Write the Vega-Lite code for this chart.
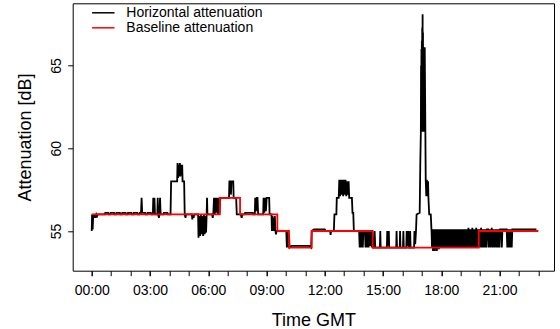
{
  "$schema": "https://vega.github.io/schema/vega-lite/v6.json",
  "autosize": {"type": "none"},
  "padding": {"left": 72.7, "top": 3.3, "right": 6, "bottom": 58.3},
  "width": 481.3,
  "height": 267.4,
  "background": "white",
  "config": {
    "font": "Liberation Sans",
    "view": {"stroke": "black", "strokeWidth": 1},
    "axis": {"grid": false, "domain": false, "tickColor": "black", "tickWidth": 1, "tickSize": 5, "labelColor": "black", "labelFontSize": 14, "labelFont": "Liberation Sans", "titleColor": "black", "titleFont": "Liberation Sans", "titleFontSize": 18, "titleFontWeight": "normal"},
    "legend": {"orient": "none", "legendX": 23.6, "legendY": 2.5, "padding": 0, "title": null, "symbolType": "M-2.8,0H2.8", "symbolSize": 64, "symbolStrokeWidth": 1.5, "labelFontSize": 14, "labelFont": "Liberation Sans", "labelColor": "black", "labelOffset": 16, "rowPadding": 1}
  },
  "datasets": {
    "h": [
      {"t":0.00,"v":55.0},{"t":0.02,"v":56.0},{"t":0.05,"v":55.1},{"t":0.08,"v":56.0},{"t":0.12,"v":55.8},{"t":0.16,"v":56.0},{"t":0.20,"v":55.8},{"t":0.24,"v":56.0},{"t":0.28,"v":55.9},{"t":0.32,"v":56.0},
      {"t":0.50,"v":56.0},{"t":0.68,"v":56.0},{"t":0.70,"v":56.1},{"t":0.85,"v":56.1},{"t":0.87,"v":56.0},{"t":0.95,"v":56.0},{"t":0.97,"v":56.1},{"t":1.15,"v":56.1},{"t":1.17,"v":56.0},{"t":1.25,"v":56.0},{"t":1.27,"v":56.1},{"t":1.45,"v":56.1},{"t":1.47,"v":56.0},{"t":1.55,"v":56.0},{"t":1.57,"v":56.1},{"t":1.75,"v":56.1},{"t":1.77,"v":56.0},{"t":1.85,"v":56.0},{"t":1.87,"v":56.1},{"t":2.05,"v":56.1},{"t":2.07,"v":56.0},{"t":2.15,"v":56.0},{"t":2.17,"v":56.1},{"t":2.35,"v":56.1},{"t":2.37,"v":56.0},{"t":2.45,"v":56.0},{"t":2.47,"v":56.1},{"t":2.54,"v":56.1},{"t":2.57,"v":57.0},{"t":2.60,"v":56.1},{"t":2.75,"v":56.1},{"t":2.77,"v":56.0},{"t":2.85,"v":56.0},{"t":2.87,"v":56.1},{"t":3.05,"v":56.1},{"t":3.08,"v":56.0},
      {"t":3.15,"v":56.0},{"t":3.17,"v":57.0},{"t":3.20,"v":56.0},{"t":3.23,"v":57.0},{"t":3.26,"v":56.0},{"t":3.38,"v":56.0},{"t":3.40,"v":57.0},{"t":3.42,"v":56.0},{"t":3.46,"v":55.8},{"t":3.49,"v":56.0},{"t":3.52,"v":57.0},{"t":3.55,"v":56.0},{"t":3.70,"v":56.0},{"t":3.72,"v":56.1},{"t":3.90,"v":56.1},{"t":3.92,"v":56.0},
      {"t":4.06,"v":56.0},{"t":4.09,"v":58.0},{"t":4.40,"v":58.0},{"t":4.42,"v":59.1},{"t":4.45,"v":58.2},{"t":4.48,"v":59.0},{"t":4.51,"v":58.3},{"t":4.54,"v":59.1},{"t":4.57,"v":58.3},{"t":4.60,"v":59.0},{"t":4.63,"v":58.4},{"t":4.66,"v":59.0},{"t":4.68,"v":58.0},{"t":4.76,"v":58.0},{"t":4.79,"v":56.0},{"t":4.83,"v":55.8},{"t":4.86,"v":56.0},
      {"t":5.16,"v":56.0},{"t":5.18,"v":55.7},{"t":5.21,"v":56.0},{"t":5.25,"v":55.8},{"t":5.28,"v":56.0},{"t":5.48,"v":56.0},{"t":5.50,"v":54.6},{"t":5.54,"v":55.9},{"t":5.58,"v":54.7},{"t":5.62,"v":56.0},{"t":5.66,"v":54.8},{"t":5.70,"v":55.9},{"t":5.74,"v":54.7},{"t":5.78,"v":56.0},{"t":5.82,"v":54.8},{"t":5.86,"v":55.9},{"t":5.89,"v":54.9},{"t":5.92,"v":56.0},{"t":5.94,"v":57.0},{"t":5.96,"v":56.0},
      {"t":6.20,"v":56.0},{"t":6.23,"v":55.8},{"t":6.26,"v":56.0},{"t":6.30,"v":57.0},{"t":6.34,"v":56.0},{"t":6.38,"v":57.0},{"t":6.42,"v":56.1},{"t":6.46,"v":57.0},{"t":6.50,"v":56.0},{"t":6.54,"v":57.0},{"t":6.58,"v":56.1},{"t":6.62,"v":57.0},{"t":7.07,"v":57.0},{"t":7.09,"v":58.0},{"t":7.15,"v":58.0},{"t":7.17,"v":57.2},{"t":7.20,"v":58.0},{"t":7.29,"v":58.0},{"t":7.31,"v":57.0},{"t":7.44,"v":57.0},{"t":7.47,"v":56.0},{"t":7.68,"v":56.0},{"t":7.72,"v":55.8},{"t":7.76,"v":56.0},{"t":7.88,"v":56.0},{"t":7.90,"v":56.1},{"t":8.30,"v":56.1},{"t":8.32,"v":56.0},
      {"t":8.40,"v":56.0},{"t":8.42,"v":57.0},{"t":8.46,"v":56.2},{"t":8.50,"v":57.0},{"t":8.54,"v":57.0},{"t":8.57,"v":56.0},{"t":8.83,"v":56.0},{"t":8.85,"v":57.0},{"t":8.89,"v":56.1},{"t":8.93,"v":57.0},{"t":8.97,"v":56.2},{"t":9.01,"v":57.0},{"t":9.14,"v":57.0},{"t":9.16,"v":56.0},{"t":9.26,"v":56.0},{"t":9.28,"v":55.0},{"t":9.31,"v":55.9},{"t":9.34,"v":55.0},{"t":9.37,"v":55.8},{"t":9.40,"v":55.0},{"t":9.43,"v":55.9},{"t":9.46,"v":55.0},{"t":9.49,"v":54.8},{"t":9.52,"v":55.0},
      {"t":10.02,"v":55.0},{"t":10.05,"v":54.0},{"t":10.09,"v":55.0},{"t":10.13,"v":54.0},{"t":10.16,"v":54.8},{"t":10.19,"v":54.0},{"t":10.30,"v":54.1},{"t":11.20,"v":54.1},{"t":11.30,"v":54.0},{"t":11.33,"v":55.0},{"t":11.45,"v":55.1},{"t":12.00,"v":55.1},{"t":12.05,"v":55.0},{"t":12.28,"v":55.0},{"t":12.30,"v":54.76},{"t":12.33,"v":55.0},{"t":12.47,"v":55.0},{"t":12.50,"v":56.0},{"t":12.60,"v":56.0},{"t":12.62,"v":57.0},{"t":12.72,"v":57.0},
      {"t":12.75,"v":58.1},{"t":12.79,"v":57.1},{"t":12.83,"v":58.1},{"t":12.87,"v":57.2},{"t":12.91,"v":58.1},{"t":12.95,"v":57.1},{"t":12.99,"v":58.1},{"t":13.03,"v":57.2},{"t":13.07,"v":58.1},{"t":13.11,"v":57.1},{"t":13.15,"v":58.0},{"t":13.19,"v":57.2},{"t":13.23,"v":58.0},{"t":13.26,"v":57.0},{"t":13.40,"v":57.0},{"t":13.43,"v":56.1},{"t":13.47,"v":56.1},{"t":13.50,"v":55.0},
      {"t":13.77,"v":55.0},{"t":13.80,"v":54.0},{"t":13.84,"v":55.0},{"t":13.88,"v":54.0},{"t":13.92,"v":55.0},{"t":13.96,"v":54.0},{"t":13.99,"v":55.0},{"t":14.07,"v":55.0},{"t":14.10,"v":54.0},{"t":14.14,"v":55.0},{"t":14.18,"v":54.0},{"t":14.22,"v":55.0},{"t":14.26,"v":54.0},{"t":14.30,"v":55.0},{"t":14.34,"v":54.1},{"t":14.38,"v":55.0},{"t":14.42,"v":54.0},{"t":14.45,"v":55.0},{"t":14.50,"v":54.0},
      {"t":14.55,"v":54.0},{"t":14.57,"v":55.0},{"t":14.60,"v":54.0},{"t":14.84,"v":54.0},{"t":14.86,"v":55.0},{"t":14.88,"v":54.0},{"t":15.20,"v":54.0},{"t":15.22,"v":55.0},{"t":15.26,"v":54.1},{"t":15.30,"v":55.0},{"t":15.32,"v":54.0},{"t":15.68,"v":54.0},{"t":15.70,"v":55.0},{"t":15.72,"v":54.0},{"t":15.86,"v":54.0},{"t":15.88,"v":55.0},{"t":15.90,"v":54.0},{"t":16.03,"v":54.0},{"t":16.05,"v":55.0},{"t":16.07,"v":54.0},{"t":16.20,"v":54.0},{"t":16.22,"v":55.0},{"t":16.26,"v":54.1},{"t":16.30,"v":55.0},{"t":16.32,"v":54.0},{"t":16.38,"v":54.0},{"t":16.40,"v":55.0},{"t":16.42,"v":54.0},{"t":16.60,"v":54.0},{"t":16.62,"v":55.0},{"t":16.66,"v":54.2},{"t":16.70,"v":55.0},
      {"t":16.73,"v":56.0},{"t":16.89,"v":56.1},{"t":16.92,"v":59.0},{"t":16.95,"v":61.0},{"t":16.96,"v":65.0},{"t":16.97,"v":61.5},{"t":16.98,"v":66.0},{"t":16.99,"v":61.0},{"t":17.00,"v":66.5},{"t":17.01,"v":61.2},{"t":17.02,"v":67.3},{"t":17.03,"v":61.5},{"t":17.04,"v":68.1},{"t":17.05,"v":61.0},{"t":17.06,"v":67.0},{"t":17.07,"v":61.5},{"t":17.08,"v":66.0},{"t":17.09,"v":61.0},{"t":17.10,"v":66.0},{"t":17.11,"v":61.2},{"t":17.12,"v":65.5},{"t":17.13,"v":61.5},{"t":17.15,"v":66.1},{"t":17.20,"v":58.1},{"t":17.23,"v":57.1},{"t":17.26,"v":58.1},{"t":17.29,"v":57.1},{"t":17.32,"v":58.0},{"t":17.34,"v":57.0},{"t":17.38,"v":56.0},{"t":17.46,"v":56.0},{"t":17.50,"v":55.0},
      {"t":17.525,"v":54.0},{"t":17.55,"v":55.1},{"t":17.575,"v":53.8},{"t":17.60,"v":55.1},{"t":17.625,"v":53.8},{"t":17.65,"v":55.1},{"t":17.675,"v":53.8},{"t":17.70,"v":55.1},{"t":17.725,"v":53.9},{"t":17.75,"v":55.1},{"t":17.775,"v":53.8},{"t":17.80,"v":55.1},{"t":17.825,"v":54.0},{"t":17.85,"v":55.1},{"t":17.875,"v":53.9},{"t":17.90,"v":55.1},{"t":17.925,"v":54.0},{"t":17.95,"v":55.1},{"t":17.975,"v":54.0},{"t":18.00,"v":55.1},
      {"t":18.025,"v":54.0},{"t":18.05,"v":55.1},{"t":18.075,"v":54.0},{"t":18.10,"v":55.1},{"t":18.125,"v":54.0},{"t":18.15,"v":55.1},{"t":18.175,"v":54.0},{"t":18.20,"v":55.1},{"t":18.225,"v":54.0},{"t":18.25,"v":55.1},{"t":18.275,"v":54.0},{"t":18.30,"v":55.1},{"t":18.325,"v":54.0},{"t":18.35,"v":55.1},{"t":18.375,"v":54.0},{"t":18.40,"v":55.1},{"t":18.425,"v":54.0},{"t":18.45,"v":55.1},{"t":18.475,"v":54.0},{"t":18.50,"v":55.1},
      {"t":18.525,"v":54.0},{"t":18.55,"v":55.1},{"t":18.575,"v":54.0},{"t":18.60,"v":55.1},{"t":18.625,"v":54.0},{"t":18.65,"v":55.1},{"t":18.675,"v":54.0},{"t":18.70,"v":55.1},{"t":18.725,"v":54.0},{"t":18.75,"v":55.1},{"t":18.775,"v":54.0},{"t":18.80,"v":55.1},{"t":18.825,"v":54.0},{"t":18.85,"v":55.1},{"t":18.875,"v":54.0},{"t":18.90,"v":55.1},{"t":18.925,"v":54.0},{"t":18.95,"v":55.1},{"t":18.975,"v":54.0},{"t":19.00,"v":55.1},
      {"t":19.025,"v":54.0},{"t":19.05,"v":55.1},{"t":19.075,"v":54.0},{"t":19.10,"v":55.1},{"t":19.125,"v":54.0},{"t":19.15,"v":55.1},{"t":19.175,"v":54.0},{"t":19.20,"v":55.1},{"t":19.225,"v":54.0},{"t":19.25,"v":55.1},{"t":19.275,"v":54.0},{"t":19.30,"v":55.1},{"t":19.325,"v":54.0},{"t":19.35,"v":55.1},{"t":19.375,"v":54.0},{"t":19.40,"v":55.2},{"t":19.425,"v":54.0},{"t":19.45,"v":55.1},{"t":19.475,"v":54.0},{"t":19.50,"v":55.1},
      {"t":19.525,"v":54.0},{"t":19.55,"v":55.1},{"t":19.575,"v":54.0},{"t":19.60,"v":55.2},{"t":19.625,"v":54.0},{"t":19.65,"v":55.1},{"t":19.675,"v":54.0},{"t":19.70,"v":55.1},{"t":19.725,"v":54.0},{"t":19.75,"v":55.1},{"t":19.775,"v":54.0},{"t":19.80,"v":55.2},{"t":19.825,"v":54.0},{"t":19.85,"v":55.1},{"t":19.875,"v":54.0},{"t":19.90,"v":55.1},
      {"t":19.925,"v":54.0},{"t":19.95,"v":55.1},{"t":19.975,"v":54.0},{"t":20.00,"v":55.1},{"t":20.025,"v":54.0},{"t":20.05,"v":55.2},{"t":20.075,"v":54.0},{"t":20.10,"v":55.1},{"t":20.125,"v":54.0},{"t":20.15,"v":55.1},{"t":20.175,"v":54.0},{"t":20.20,"v":55.1},{"t":20.225,"v":54.0},{"t":20.25,"v":55.1},{"t":20.275,"v":54.0},{"t":20.30,"v":55.1},{"t":20.33,"v":54.0},{"t":20.36,"v":55.1},
      {"t":20.42,"v":55.1},{"t":20.45,"v":54.0},{"t":20.50,"v":55.1},{"t":20.55,"v":54.0},{"t":20.60,"v":55.2},{"t":20.65,"v":54.0},{"t":20.70,"v":55.1},{"t":20.75,"v":54.0},{"t":20.80,"v":55.1},{"t":20.85,"v":54.0},{"t":20.88,"v":55.1},{"t":20.92,"v":54.0},{"t":20.95,"v":55.1},{"t":21.00,"v":54.0},{"t":21.03,"v":55.1},{"t":21.10,"v":55.1},{"t":21.12,"v":54.0},{"t":21.15,"v":55.1},{"t":21.37,"v":55.1},{"t":21.40,"v":54.0},{"t":21.44,"v":55.1},{"t":21.48,"v":54.0},{"t":21.52,"v":55.1},{"t":21.56,"v":54.0},{"t":21.60,"v":55.1},{"t":21.63,"v":54.0},{"t":21.66,"v":55.1},{"t":22.90,"v":55.1}
    ],
    "b": [
      {"t":0,"v":56},{"t":6.6,"v":57},{"t":7.64,"v":56},{"t":9.56,"v":55},{"t":10.16,"v":54},{"t":11.33,"v":55},{"t":14.47,"v":54},{"t":19.93,"v":55},{"t":23.0,"v":55}
    ]
  },
  "resolve": {"axis": {"x": "independent"}},
  "layer": [
    {
      "data": {"name": "h"},
      "mark": {"type": "line", "strokeWidth": 1.8},
      "encoding": {
        "x": {"field": "t", "type": "quantitative", "scale": {"domain": [-0.978, 23.806], "nice": false, "zero": false},
          "axis": {"orient": "bottom", "values": [0,1,2,3,4,5,6,7,8,9,10,11,12,13,14,15,16,17,18,19,20,21,22,23], "labels": false, "title": null}},
        "y": {"field": "v", "type": "quantitative", "scale": {"domain": [52.601, 68.758], "nice": false, "zero": false},
          "axis": {"values": [55, 60, 65], "labelAngle": 270, "labelAlign": "center", "labelBaseline": "alphabetic", "labelPadding": 7.5, "title": "Attenuation [dB]", "titleAngle": 270, "titleBaseline": "alphabetic", "titleX": -42}},
        "color": {"datum": "Horizontal attenuation", "type": "nominal", "scale": {"domain": ["Horizontal attenuation", "Baseline attenuation"], "range": ["black", "#ff0000"]}}
      }
    },
    {
      "data": {"name": "b"},
      "mark": {"type": "line", "strokeWidth": 1.8, "interpolate": "step-after"},
      "encoding": {
        "x": {"field": "t", "type": "quantitative",
          "axis": {"orient": "bottom", "values": [0,3,6,9,12,15,18,21], "labelExpr": "(datum.value < 10 ? '0' : '') + datum.value + ':00'", "labelOverlap": false, "labelFlush": false, "labelPadding": 8, "labelBaseline": "top", "title": "Time GMT", "titleBaseline": "alphabetic", "titleY": 54.5}},
        "y": {"field": "v", "type": "quantitative"},
        "color": {"datum": "Baseline attenuation", "type": "nominal"}
      }
    }
  ]
}
